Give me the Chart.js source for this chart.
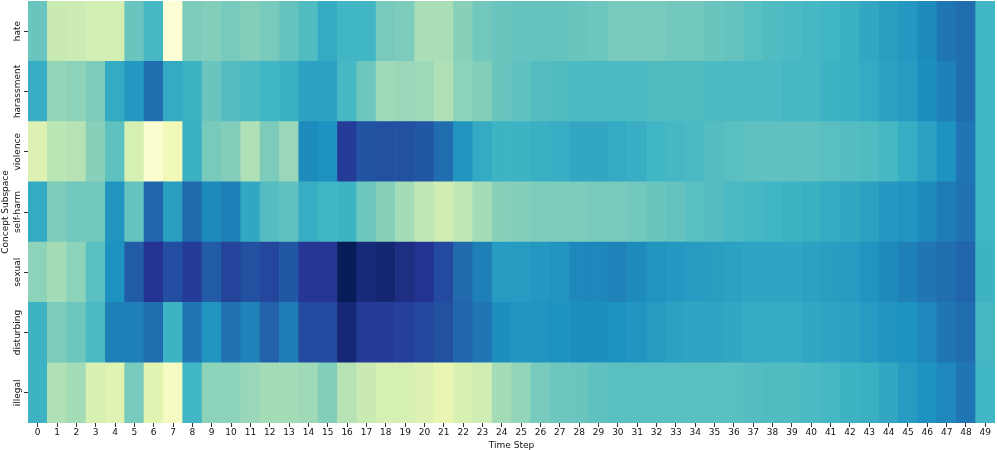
<!DOCTYPE html>
<html><head><meta charset="utf-8">
<script src="https://cdn.jsdelivr.net/npm/chart.js@4.4.1/dist/chart.umd.min.js"></script>
<style>html,body{margin:0;padding:0;background:#fff}#wrap{width:997px;height:450px}</style>
</head><body><div id="wrap"><canvas id="c" width="997" height="450"></canvas></div>
<script>
const timeSteps = Array.from({length:50},(_,i)=>String(i));
const concepts = ["hate","harassment","violence","self-harm","sexual","disturbing","illegal"];
const hate = [0.42,0.24,0.23,0.21,0.21,0.42,0.49,0.01,0.38,0.37,0.39,0.37,0.39,0.43,0.47,0.54,0.50,0.50,0.39,0.38,0.30,0.30,0.36,0.40,0.42,0.43,0.43,0.43,0.42,0.41,0.39,0.39,0.39,0.40,0.40,0.42,0.43,0.45,0.47,0.48,0.49,0.50,0.52,0.55,0.58,0.60,0.64,0.69,0.71,0.50];
const harassment = [0.53,0.34,0.35,0.38,0.54,0.60,0.71,0.54,0.51,0.42,0.46,0.48,0.50,0.52,0.57,0.57,0.49,0.41,0.32,0.33,0.32,0.29,0.35,0.37,0.42,0.44,0.46,0.47,0.48,0.48,0.48,0.48,0.47,0.47,0.47,0.48,0.48,0.48,0.48,0.49,0.49,0.51,0.52,0.54,0.57,0.59,0.63,0.67,0.71,0.50];
const violence = [0.18,0.27,0.28,0.36,0.44,0.20,0.03,0.10,0.52,0.39,0.37,0.29,0.38,0.33,0.64,0.62,0.85,0.78,0.79,0.79,0.77,0.71,0.61,0.54,0.51,0.51,0.52,0.53,0.55,0.55,0.54,0.53,0.50,0.49,0.48,0.46,0.45,0.44,0.44,0.44,0.44,0.45,0.46,0.47,0.49,0.53,0.57,0.62,0.69,0.50];
const selfHarm = [0.54,0.38,0.40,0.40,0.61,0.43,0.73,0.58,0.72,0.64,0.67,0.55,0.46,0.44,0.53,0.50,0.51,0.41,0.36,0.31,0.26,0.22,0.26,0.31,0.36,0.37,0.38,0.38,0.38,0.39,0.39,0.40,0.42,0.43,0.45,0.46,0.48,0.49,0.50,0.51,0.52,0.54,0.55,0.57,0.60,0.61,0.64,0.68,0.70,0.50];
const sexual = [0.35,0.31,0.35,0.45,0.62,0.76,0.88,0.80,0.85,0.76,0.83,0.79,0.82,0.77,0.87,0.87,1.00,0.93,0.95,0.91,0.88,0.81,0.72,0.67,0.59,0.59,0.60,0.61,0.65,0.65,0.66,0.64,0.61,0.60,0.59,0.58,0.57,0.56,0.56,0.56,0.57,0.58,0.59,0.61,0.64,0.67,0.69,0.71,0.73,0.51];
const disturbing = [0.51,0.38,0.41,0.48,0.67,0.67,0.71,0.51,0.69,0.61,0.70,0.66,0.74,0.68,0.81,0.81,0.94,0.85,0.85,0.84,0.82,0.79,0.73,0.69,0.63,0.61,0.61,0.62,0.63,0.63,0.62,0.61,0.59,0.57,0.56,0.56,0.55,0.54,0.54,0.54,0.55,0.56,0.57,0.59,0.61,0.62,0.65,0.69,0.71,0.49];
const illegal = [0.51,0.29,0.31,0.19,0.17,0.39,0.16,0.07,0.50,0.35,0.35,0.33,0.31,0.31,0.32,0.37,0.28,0.24,0.20,0.20,0.18,0.14,0.19,0.22,0.31,0.34,0.39,0.41,0.42,0.44,0.45,0.45,0.45,0.45,0.45,0.45,0.45,0.46,0.47,0.47,0.48,0.49,0.51,0.52,0.55,0.59,0.62,0.65,0.69,0.50];

const rows = [hate,harassment,violence,selfHarm,sexual,disturbing,illegal];
const stops = [[255,255,217],[237,248,177],[199,233,180],[127,205,187],[65,182,196],[29,145,192],[34,94,168],[37,52,148],[8,29,88]];
function cmap(v){
  v=Math.max(0,Math.min(1,v));
  const p=v*(stops.length-1); const i=Math.min(stops.length-2,Math.floor(p)); const f=p-i;
  const a=stops[i],b=stops[i+1];
  return `rgb(${Math.round(a[0]+(b[0]-a[0])*f)},${Math.round(a[1]+(b[1]-a[1])*f)},${Math.round(a[2]+(b[2]-a[2])*f)})`;
}
const datasets = [];
for(let r=rows.length-1;r>=0;r--){
  datasets.push({label:concepts[r],data:timeSteps.map(()=>1),backgroundColor:rows[r].map(cmap),
    borderWidth:0,barPercentage:1,categoryPercentage:1});
}
const font = {family:"'DejaVu Sans'",size:9,lineHeight:1};
const yLabels = {
  id:'yLabels',
  afterDraw(chart){
    const ys=chart.scales.y, ctx=chart.ctx;
    ctx.save();
    ctx.font="9px 'DejaVu Sans'"; ctx.fillStyle='#111';
    ctx.textAlign='center'; ctx.textBaseline='middle';
    ys.ticks.forEach(t=>{
      const py=ys.getPixelForValue(t.value);
      ctx.save(); ctx.translate(chart.chartArea.left-10.5,py); ctx.rotate(-Math.PI/2);
      ctx.fillText(concepts[Math.round(6.5-t.value)],0,0); ctx.restore();
    });
    ctx.restore();
  }
};
new Chart(document.getElementById('c'),{
  type:'bar',
  data:{labels:timeSteps,datasets},
  plugins:[yLabels],
  options:{
    responsive:false,animation:false,
    layout:{padding:{top:1,right:2,left:0,bottom:0}},
    plugins:{legend:{display:false},tooltip:{enabled:false}},
    scales:{
      x:{stacked:true,offset:true,
        grid:{display:true,drawOnChartArea:false,offset:false,tickLength:4,color:'#333',tickWidth:1},
        border:{display:false},
        ticks:{font,color:'#111',autoSkip:false,maxRotation:0,minRotation:0,padding:1},
        title:{display:true,text:'Time Step',font,color:'#111',padding:{top:3,bottom:0}}},
      y:{stacked:true,min:0,max:7,
        afterBuildTicks:(ax)=>{ax.ticks=concepts.map((c,i)=>({value:6.5-i}));},
        afterFit:(s)=>{s.width=28;},
        grid:{display:true,drawOnChartArea:false,tickLength:4,color:'#333',tickWidth:1},
        border:{display:false},
        ticks:{display:false},
        title:{display:true,text:'Concept Subspace',font:{family:"'DejaVu Sans'",size:9},color:'#111',padding:{top:0,bottom:0}}}
    }
  }
});
</script></body></html>
